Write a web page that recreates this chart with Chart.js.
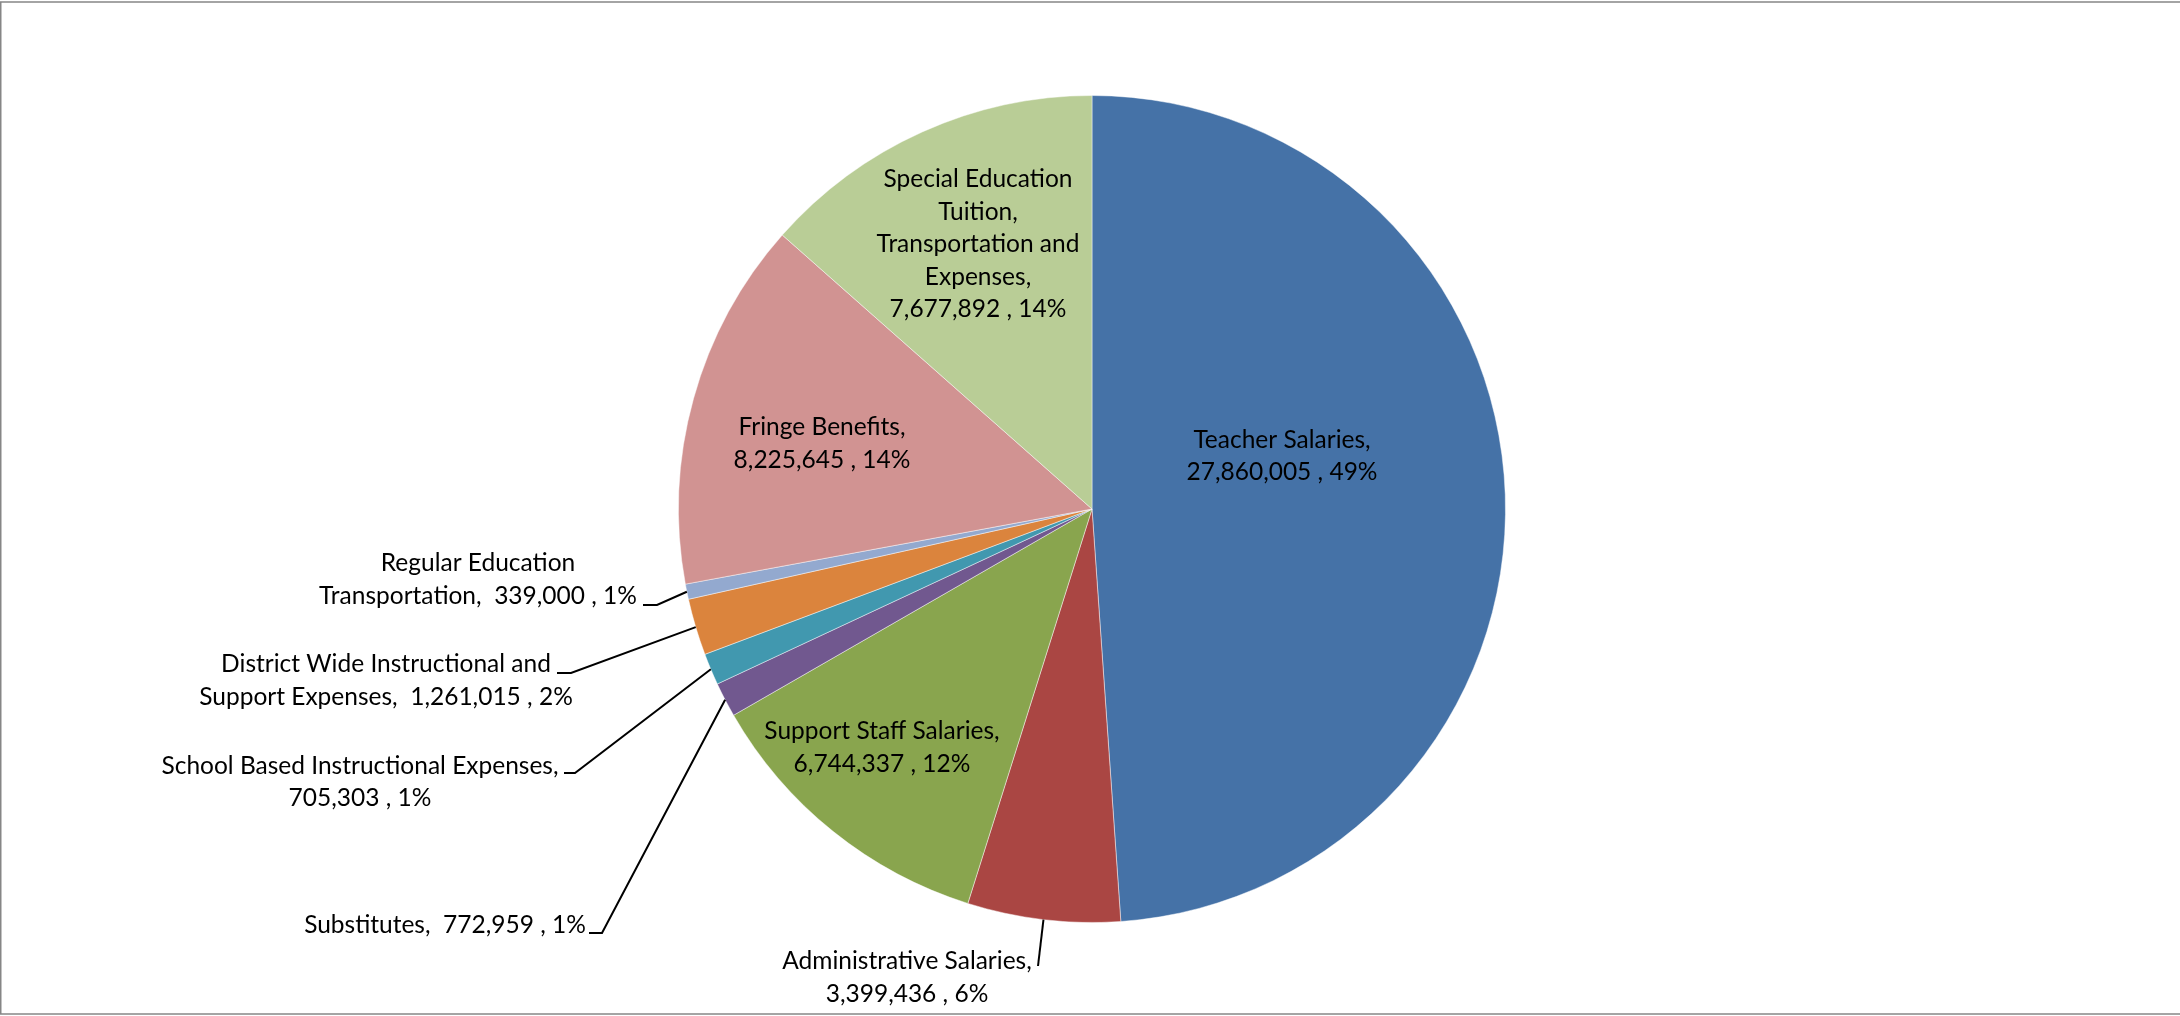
<!DOCTYPE html>
<html>
<head>
<meta charset="utf-8">
<title>Expenditures</title>
<script src="https://cdn.jsdelivr.net/npm/chart.js@4.4.1/dist/chart.umd.min.js"></script>
<style>
    html, body { margin: 0; padding: 0; background: #fff; }
    #wrap { width: 2180px; height: 1016px; }
</style>
</head>
<body>
<div id="wrap"><canvas id="pieChart" width="2180" height="1016"></canvas></div>
<script>
// data, clockwise from 12 o'clock
const categories = [
    'Teacher Salaries',
    'Administrative Salaries',
    'Support Staff Salaries',
    'Substitutes',
    'School Based Instructional Expenses',
    'District Wide Instructional and Support Expenses',
    'Regular Education Transportation',
    'Fringe Benefits',
    'Special Education Tuition, Transportation and Expenses'
];
const amounts = [27860005, 3399436, 6744337, 772959, 705303, 1261015, 339000, 8225645, 7677892];
const sliceColors = ['#4572A7', '#AA4643', '#89A54E', '#71588F', '#4198AF', '#DB843D', '#93A9CF', '#D19392', '#B9CD96'];

// label placement relative to the pie centre (dx, dy = text block centre / mid baseline)
// leader = [startX, startY, elbowX, elbowY], then drawn to the slice edge
const labelLayout = [
    { dx: 190, dy: -45, wrap: 213 },
    { dx: -185, dy: 476.5, wrap: 288, leader: [-54, 457, -54, 457] },
    { dx: -210, dy: 246.5, wrap: 266 },
    { dx: -647, dy: 424, wrap: 530, leader: [-503, 424, -490, 424] },
    { dx: -732, dy: 281, wrap: 450, leader: [-528, 264, -517, 264] },
    { dx: -706, dy: 179.5, wrap: 410, leader: [-535, 164, -521, 164] },
    { dx: -614, dy: 78.5, wrap: 352, leader: [-449, 96, -435, 96] },
    { dx: -270, dy: -57.5, wrap: 213 },
    { dx: -114, dy: -257, wrap: 229 }
];

const FONT = '24.5px Lato';
const LINE_H = 32.5;

// Excel style: rounded percentages that add up to 100
function roundedPercents(vals) {
    const total = vals.reduce((a, b) => a + b, 0);
    const raw = vals.map(v => v / total * 100);
    const out = raw.map(Math.floor);
    let left = 100 - out.reduce((a, b) => a + b, 0);
    const order = raw.map((r, i) => [r - Math.floor(r), i]).sort((a, b) => b[0] - a[0]);
    for (let k = 0; k < left; k++) out[order[k][1]] += 1;
    return out;
}

function wrapText(ctx, text, maxW) {
    const words = text.split(' ');
    const lines = [];
    let cur = '';
    words.forEach(w => {
        const test = cur === '' ? w : cur + ' ' + w;
        if (cur !== '' && ctx.measureText(test.trim()).width > maxW) {
            lines.push(cur.trim());
            cur = w;
        } else {
            cur = test;
        }
    });
    if (cur.trim() !== '') lines.push(cur.trim());
    return lines;
}

const sliceLabels = {
    id: 'sliceLabels',
    afterDatasetsDraw(chart) {
        const ctx = chart.ctx;
        const meta = chart.getDatasetMeta(0);
        const pct = roundedPercents(amounts);
        ctx.save();
        ctx.font = FONT;
        ctx.fillStyle = '#000';
        ctx.strokeStyle = '#000';
        ctx.lineWidth = 2;
        ctx.textAlign = 'center';
        ctx.textBaseline = 'alphabetic';
        meta.data.forEach((arc, i) => {
            const lay = labelLayout[i];
            const text = `${categories[i]},  ${amounts[i].toLocaleString('en-US')} , ${pct[i]}%`;
            const lines = wrapText(ctx, text, lay.wrap);
            const n = lines.length;
            lines.forEach((ln, k) => {
                ctx.fillText(ln, arc.x + lay.dx, arc.y + lay.dy + (k - (n - 1) / 2) * LINE_H);
            });
            if (lay.leader) {
                const mid = (arc.startAngle + arc.endAngle) / 2;
                const ex = arc.x + Math.cos(mid) * arc.outerRadius;
                const ey = arc.y + Math.sin(mid) * arc.outerRadius;
                ctx.beginPath();
                ctx.moveTo(arc.x + lay.leader[0], arc.y + lay.leader[1]);
                ctx.lineTo(arc.x + lay.leader[2], arc.y + lay.leader[3]);
                ctx.lineTo(ex, ey);
                ctx.stroke();
            }
        });
        ctx.restore();
    }
};

// grey frame: top, left and bottom edges
const frame = {
    id: 'frame',
    beforeDraw(chart) {
        const { ctx, width, height } = chart;
        ctx.save();
        ctx.fillStyle = '#fff';
        ctx.fillRect(0, 0, width, height);
        ctx.strokeStyle = '#868686';
        ctx.lineWidth = 1.5;
        ctx.beginPath();
        ctx.moveTo(0, 2); ctx.lineTo(width, 2);
        ctx.moveTo(0.75, 2); ctx.lineTo(0.75, height - 2);
        ctx.moveTo(0, height - 2); ctx.lineTo(width, height - 2);
        ctx.stroke();
        ctx.restore();
    }
};

new Chart(document.getElementById('pieChart'), {
    type: 'pie',
    data: {
        labels: categories,
        datasets: [{
            data: amounts,
            backgroundColor: sliceColors,
            borderColor: 'rgba(255,255,255,0.45)',
            borderWidth: 1
        }]
    },
    options: {
        responsive: false,
        animation: false,
        layout: { padding: { top: 95, bottom: 93, left: 4, right: 0 } },
        plugins: {
            legend: { display: false },
            tooltip: { enabled: false }
        }
    },
    plugins: [frame, sliceLabels]
});
</script>
</body>
</html>
